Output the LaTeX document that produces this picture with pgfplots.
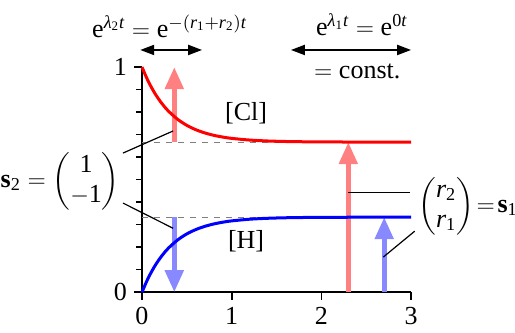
\documentclass[border=0pt]{standalone}
\usepackage{amsmath}
\usepackage{fontspec}
\setmainfont{Liberation Serif}
\usepackage{pgfplots}
\pgfplotsset{compat=1.18}
\usetikzlibrary{arrows.meta}

\definecolor{lightred}{RGB}{255,128,128}
\definecolor{lightblue}{RGB}{136,136,255}
\newcommand{\lam}{\text{\itshape λ}}
\newcommand{\tx}[1]{\text{#1}}

% [Cl](t) and [H](t)
\pgfplotstableread{
t     cl      h
0     1.0000  0.0000
0.05  0.9536  0.0464
0.1   0.9136  0.0864
0.15  0.8792  0.1208
0.2   0.8496  0.1504
0.25  0.8241  0.1759
0.3   0.8022  0.1978
0.4   0.7671  0.2329
0.5   0.7410  0.2590
0.6   0.7218  0.2782
0.7   0.7075  0.2925
0.8   0.6969  0.3031
0.9   0.6891  0.3109
1.0   0.6833  0.3167
1.2   0.6758  0.3242
1.4   0.6717  0.3283
1.6   0.6694  0.3306
1.8   0.6682  0.3318
2.0   0.6675  0.3325
2.5   0.6669  0.3331
3.0   0.6667  0.3333
}\conc

\begin{document}
\begin{tikzpicture}
\begin{axis}[
    scale only axis,
    width=134.5pt, height=112.5pt,
    xmin=0, xmax=3, ymin=0, ymax=1,
    axis lines*=left,
    xtick={0,1,2,3}, xticklabels={0,1,2,3},
    ytick={0,1}, yticklabels={0,1},
    minor ytick={0.1,0.2,...,0.9},
    tick align=outside,
    major tick length=4pt, minor tick length=3pt,
    tick style={black, line width=0.8pt},
    axis line style={line width=0.8pt},
    font=\fontsize{13}{15}\selectfont,
    ticklabel style={font=\fontsize{13}{15}\selectfont},
    clip=false,
]
% equilibrium levels
\draw[gray, dashed, line width=0.5pt] (axis cs:0,0.6667) -- (axis cs:1.7,0.6667);
\draw[gray, dashed, line width=0.5pt] (axis cs:0,0.3333) -- (axis cs:1.7,0.3333);

% s2 and s1 arrows
\draw[lightred, line width=2.5pt, -{Triangle[width=9pt,length=11pt]}] (axis cs:0.36,0.6667) -- (axis cs:0.36,1);
\draw[lightblue, line width=2.5pt, -{Triangle[width=9pt,length=11pt]}] (axis cs:0.36,0.3333) -- (axis cs:0.36,0);
\draw[lightred, line width=2.5pt, -{Triangle[width=9pt,length=11pt]}] (axis cs:2.3,0) -- (axis cs:2.3,0.6667);
\draw[lightblue, line width=2.5pt, -{Triangle[width=9pt,length=11pt]}] (axis cs:2.7,0) -- (axis cs:2.7,0.3333);

\addplot[red, line width=1.5pt, smooth] table[x=t, y=cl] {\conc};
\addplot[blue, line width=1.5pt, smooth] table[x=t, y=h] {\conc};

\node at (axis cs:1.16,0.796) {[Cl]};
\node at (axis cs:1.16,0.227) {[H]};

% time scales
\draw[line width=1pt, {Triangle[width=5pt,length=7pt]}-{Triangle[width=5pt,length=7pt]}] (axis cs:-0.02,1.076) -- (axis cs:0.67,1.076);
\draw[line width=1pt, {Triangle[width=5pt,length=7pt]}-{Triangle[width=5pt,length=7pt]}] (axis cs:1.66,1.076) -- (axis cs:3.0,1.076);
\node at (axis cs:0.307,1.182) {$\mathrm{e}^{\lam_{\tx{2}}\mathit{t}} = \mathrm{e}^{-(\mathit{r}_{\tx{1}}+\mathit{r}_{\tx{2}})\mathit{t}}$};
\node at (axis cs:2.45,1.187) {$\mathrm{e}^{\lam_{\tx{1}}\mathit{t}} = \mathrm{e}^{\tx{0}\mathit{t}}$};
\node at (axis cs:2.40,0.982) {$=$ const.};

% eigenvectors
\node[anchor=east, inner sep=0pt] at (axis cs:-0.245,0.493) {$\mathbf{s}_{\tx{2}} = \begin{pmatrix}\tx{1}\\-\tx{1}\end{pmatrix}$};
\node[anchor=west, inner sep=0pt] at (axis cs:3.077,0.382) {\setlength{\arraycolsep}{2pt}$\begin{pmatrix}\mathit{r}_{\tx{2}}\\\mathit{r}_{\tx{1}}\end{pmatrix}\!=\!\mathbf{s}_{\tx{1}}$};
\draw[line width=0.6pt] (axis cs:-0.212,0.618) -- (axis cs:0.346,0.716);
\draw[line width=0.6pt] (axis cs:-0.212,0.396) -- (axis cs:0.346,0.284);
\draw[line width=0.6pt] (axis cs:2.297,0.444) -- (axis cs:2.99,0.444);
\draw[line width=0.6pt] (axis cs:2.69,0.156) -- (axis cs:3.04,0.271);

\coordinate (bl) at (axis cs:-1.583,-0.178);
\coordinate (tr) at (axis cs:4.158,1.298);
\end{axis}
\pgfresetboundingbox
\useasboundingbox (bl) rectangle (tr);
\end{tikzpicture}
\end{document}
